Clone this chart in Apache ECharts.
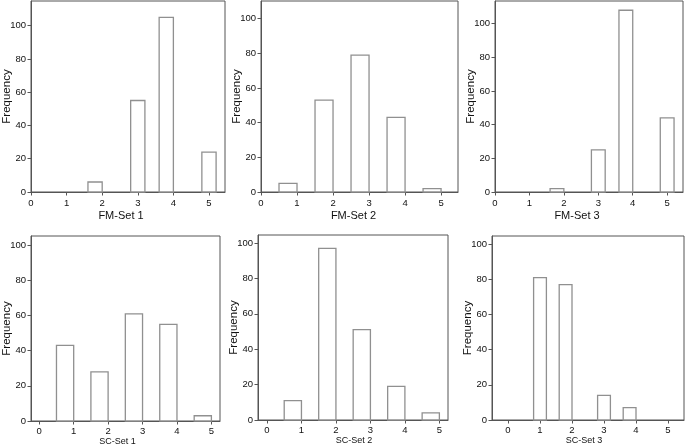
<!DOCTYPE html>
<html>
<head>
<meta charset="utf-8">
<script src="https://cdn.jsdelivr.net/npm/echarts@6/dist/echarts.min.js"></script>
<style>
html,body{margin:0;padding:0;background:#fff;}
#chart{width:685px;height:447px;}
</style>
</head>
<body>
<div id="chart"></div>
<script>
// ---- data ----
const panelNames = ['FM-Set 1', 'FM-Set 2', 'FM-Set 3', 'SC-Set 1', 'SC-Set 2', 'SC-Set 3'];
const xTicks = [0, 1, 2, 3, 4, 5];
const yTicks = [0, 20, 40, 60, 80, 100];

const fm1Start = [1.6, 2.8, 3.6, 4.8];
const fm1End   = [2.0, 3.2, 4.0, 5.2];
const fm1Freq  = [6, 55, 105, 24];

const fm2Start = [0.5, 1.5, 2.5, 3.5, 4.5];
const fm2End   = [1.0, 2.0, 3.0, 4.0, 5.0];
const fm2Freq  = [5, 53, 79, 43, 2];

const fm3Start = [1.6, 2.8, 3.6, 4.8];
const fm3End   = [2.0, 3.2, 4.0, 5.2];
const fm3Freq  = [2, 25, 108, 44];

const sc1Start = [0.5, 1.5, 2.5, 3.5, 4.5];
const sc1End   = [1.0, 2.0, 3.0, 4.0, 5.0];
const sc1Freq  = [43, 28, 61, 55, 3];

const sc2Start = [0.5, 1.5, 2.5, 3.5, 4.5];
const sc2End   = [1.0, 2.0, 3.0, 4.0, 5.0];
const sc2Freq  = [11, 97, 51, 19, 4];

const sc3Start = [0.8, 1.6, 2.8, 3.6];
const sc3End   = [1.2, 2.0, 3.2, 4.0];
const sc3Freq  = [81, 77, 14, 7];

const starts = [fm1Start, fm2Start, fm3Start, sc1Start, sc2Start, sc3Start];
const ends   = [fm1End, fm2End, fm3End, sc1End, sc2End, sc3End];
const freqs  = [fm1Freq, fm2Freq, fm3Freq, sc1Freq, sc2Freq, sc3Freq];

// ---- layout (pixels) ----
const layout = [
  {left: 31,  top: 1,   width: 194, height: 191, xMin: 0,     xMax: 5.45, yMax: 114.8, nameOff: -7,  row: 0},
  {left: 261, top: 1,   width: 197, height: 191, xMin: 0,     xMax: 5.47, yMax: 110.2, nameOff: -6,  row: 0},
  {left: 495, top: 1,   width: 188, height: 191, xMin: 0,     xMax: 5.46, yMax: 113.5, nameOff: -12, row: 0},
  {left: 31,  top: 236, width: 189, height: 185, xMin: -0.24, xMax: 5.25, yMax: 105.3, nameOff: -8,  row: 1},
  {left: 258, top: 235, width: 190, height: 185, xMin: -0.26, xMax: 5.25, yMax: 104.5, nameOff: 1,   row: 1},
  {left: 492, top: 236, width: 192, height: 184, xMin: -0.5,  xMax: 5.5,  yMax: 104.7, nameOff: -4,  row: 1}
];

const FONT = "'Liberation Sans', Arial, sans-serif";
const TICKFONT = "'Liberation Sans Narrow', 'Arial Narrow', 'Liberation Sans', sans-serif";
const frameColor = '#555';
const textColor = '#111';

const grids = [], xAxes = [], yAxes = [], series = [];
layout.forEach((L, i) => {
  grids.push({left: L.left, top: L.top, width: L.width, height: L.height,
    outerBoundsMode: 'none', containLabel: false,
    show: true, borderColor: frameColor, borderWidth: 1, backgroundColor: 'transparent'});
  const pad = L.nameOff < 0 ? [0, -2 * L.nameOff, 0, 0] : [0, 0, 0, 2 * L.nameOff];
  xAxes.push({
    type: 'value', gridIndex: i, min: L.xMin, max: L.xMax,
    name: panelNames[i], nameLocation: 'middle', nameGap: L.row === 0 ? 18 : 16,
    nameMoveOverlap: false,
    nameTextStyle: {fontFamily: FONT, fontSize: L.row === 0 ? 11 : 9, color: textColor, padding: pad},
    axisLine: {show: true, onZero: false, lineStyle: {color: frameColor, width: 1}},
    axisTick: {show: true, length: 3.5, customValues: xTicks, lineStyle: {color: frameColor}},
    axisLabel: {customValues: xTicks, margin: L.row === 0 ? 6 : 5, fontFamily: TICKFONT, fontSize: 9.5, color: textColor},
    splitLine: {show: false}
  });
  yAxes.push({
    type: 'value', gridIndex: i, min: 0, max: L.yMax,
    name: 'Frequency', nameLocation: 'middle', nameGap: 18,
    nameMoveOverlap: false,
    nameTextStyle: {fontFamily: FONT, fontSize: 11.5, color: textColor},
    axisLine: {show: true, onZero: false, lineStyle: {color: frameColor, width: 1}},
    axisTick: {show: true, length: 3.5, customValues: yTicks, lineStyle: {color: frameColor}},
    axisLabel: {customValues: yTicks, margin: 5, fontFamily: TICKFONT, fontSize: 9.5, color: textColor},
    splitLine: {show: false}
  });
  const data = starts[i].map((s, k) => [s, ends[i][k], freqs[i][k]]);
  series.push({
    type: 'custom', xAxisIndex: i, yAxisIndex: i,
    encode: {x: [0, 1], y: 2},
    data: data,
    renderItem: function (params, api) {
      const p0 = api.coord([api.value(0), 0]);
      const p1 = api.coord([api.value(1), api.value(2)]);
      return {
        type: 'rect',
        shape: {x: p0[0], y: p1[1], width: p1[0] - p0[0], height: p0[1] - p1[1]},
        style: {fill: '#fff', stroke: '#909090', lineWidth: 1.3}
      };
    }
  });
});

const chart = echarts.init(document.getElementById('chart'), null, {renderer: 'canvas'});
chart.setOption({
  animation: false,
  backgroundColor: '#fff',
  grid: grids,
  xAxis: xAxes,
  yAxis: yAxes,
  series: series
});
</script>
</body>
</html>
